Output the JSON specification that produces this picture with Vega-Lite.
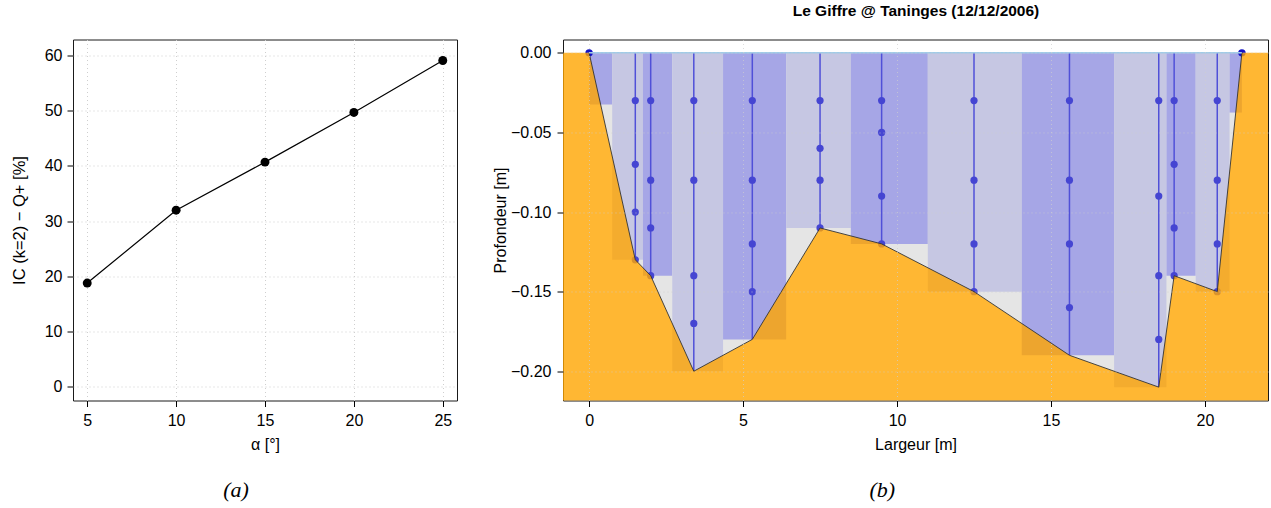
{
  "$schema": "https://vega.github.io/schema/vega-lite/v6.json",
  "padding": {"left": 10, "top": 2.5, "right": 0, "bottom": 0},
  "background": "white",
  "config": {
    "view": {"stroke": "#1a1a1a", "strokeWidth": 1},
    "font": "Liberation Sans",
    "axis": {
      "labelFont": "Liberation Sans", "titleFont": "Liberation Sans",
      "labelColor": "#000", "titleColor": "#000", "tickColor": "#000",
      "tickSize": 6, "tickWidth": 1, "domain": false,
      "gridColor": "#cfcfcf", "gridDash": [1, 3], "gridWidth": 1,
      "labelFontSize": 16, "titleFontSize": 16, "titleFontWeight": "normal",
      "labelPadding": 6, "titlePadding": 8, "labelFlush": false, "labelOverlap": false
    }
  },
  "spacing": 106,
  "bounds": "flush",
  "datasets": {
    "ic": [
      {"alpha": 5, "ic": 18.8},
      {"alpha": 10, "ic": 32.0},
      {"alpha": 15, "ic": 40.7},
      {"alpha": 20, "ic": 49.7},
      {"alpha": 25, "ic": 59.1}
    ],
    "bed": [
      {"x": 0, "d": 0}, {"x": 1.5, "d": -0.13}, {"x": 2.0, "d": -0.14}, {"x": 3.4, "d": -0.20},
      {"x": 5.3, "d": -0.18}, {"x": 7.5, "d": -0.11}, {"x": 9.5, "d": -0.12}, {"x": 12.5, "d": -0.15},
      {"x": 15.6, "d": -0.19}, {"x": 18.5, "d": -0.21}, {"x": 19.0, "d": -0.14}, {"x": 20.4, "d": -0.15},
      {"x": 21.2, "d": 0}
    ],
    "ground": [
      {"x": -3, "d": 0},
      {"x": 0, "d": 0}, {"x": 1.5, "d": -0.13}, {"x": 2.0, "d": -0.14}, {"x": 3.4, "d": -0.20},
      {"x": 5.3, "d": -0.18}, {"x": 7.5, "d": -0.11}, {"x": 9.5, "d": -0.12}, {"x": 12.5, "d": -0.15},
      {"x": 15.6, "d": -0.19}, {"x": 18.5, "d": -0.21}, {"x": 19.0, "d": -0.14}, {"x": 20.4, "d": -0.15},
      {"x": 21.2, "d": 0},
      {"x": 25, "d": 0}
    ],
    "sections": [
      {"x": 0, "xe": 0.75, "d": -0.0325, "shade": "dark"},
      {"x": 0.75, "xe": 1.75, "d": -0.13, "shade": "light"},
      {"x": 1.75, "xe": 2.7, "d": -0.14, "shade": "dark"},
      {"x": 2.7, "xe": 4.35, "d": -0.20, "shade": "light"},
      {"x": 4.35, "xe": 6.4, "d": -0.18, "shade": "dark"},
      {"x": 6.4, "xe": 8.5, "d": -0.11, "shade": "light"},
      {"x": 8.5, "xe": 11.0, "d": -0.12, "shade": "dark"},
      {"x": 11.0, "xe": 14.05, "d": -0.15, "shade": "light"},
      {"x": 14.05, "xe": 17.05, "d": -0.19, "shade": "dark"},
      {"x": 17.05, "xe": 18.75, "d": -0.21, "shade": "light"},
      {"x": 18.75, "xe": 19.7, "d": -0.14, "shade": "dark"},
      {"x": 19.7, "xe": 20.8, "d": -0.15, "shade": "light"},
      {"x": 20.8, "xe": 21.2, "d": -0.0375, "shade": "dark"}
    ],
    "verticals": [
      {"x": 1.5, "d": -0.13}, {"x": 2.0, "d": -0.14}, {"x": 3.4, "d": -0.20},
      {"x": 5.3, "d": -0.18}, {"x": 7.5, "d": -0.11}, {"x": 9.5, "d": -0.12}, {"x": 12.5, "d": -0.15},
      {"x": 15.6, "d": -0.19}, {"x": 18.5, "d": -0.21}, {"x": 19.0, "d": -0.14}, {"x": 20.4, "d": -0.15}
    ],
    "measures": [
      {"x": 1.5, "d": -0.03}, {"x": 1.5, "d": -0.07}, {"x": 1.5, "d": -0.10}, {"x": 1.5, "d": -0.13},
      {"x": 2.0, "d": -0.03}, {"x": 2.0, "d": -0.08}, {"x": 2.0, "d": -0.11}, {"x": 2.0, "d": -0.14},
      {"x": 3.4, "d": -0.03}, {"x": 3.4, "d": -0.08}, {"x": 3.4, "d": -0.14}, {"x": 3.4, "d": -0.17},
      {"x": 5.3, "d": -0.03}, {"x": 5.3, "d": -0.08}, {"x": 5.3, "d": -0.12}, {"x": 5.3, "d": -0.15},
      {"x": 7.5, "d": -0.03}, {"x": 7.5, "d": -0.06}, {"x": 7.5, "d": -0.08}, {"x": 7.5, "d": -0.11},
      {"x": 9.5, "d": -0.03}, {"x": 9.5, "d": -0.05}, {"x": 9.5, "d": -0.09}, {"x": 9.5, "d": -0.12},
      {"x": 12.5, "d": -0.03}, {"x": 12.5, "d": -0.08}, {"x": 12.5, "d": -0.12}, {"x": 12.5, "d": -0.15},
      {"x": 15.6, "d": -0.03}, {"x": 15.6, "d": -0.08}, {"x": 15.6, "d": -0.12}, {"x": 15.6, "d": -0.16},
      {"x": 18.5, "d": -0.03}, {"x": 18.5, "d": -0.09}, {"x": 18.5, "d": -0.14}, {"x": 18.5, "d": -0.18},
      {"x": 19.0, "d": -0.03}, {"x": 19.0, "d": -0.07}, {"x": 19.0, "d": -0.11}, {"x": 19.0, "d": -0.14},
      {"x": 20.4, "d": -0.03}, {"x": 20.4, "d": -0.08}, {"x": 20.4, "d": -0.12}, {"x": 20.4, "d": -0.15}
    ],
    "edges": [{"x": 0, "d": 0}, {"x": 21.2, "d": 0}],
    "surface": [{"x": 0, "xe": 21.2}]
  },
  "hconcat": [
    {
      "width": 384,
      "height": 361,
      "title": {"text": "(a)", "orient": "bottom", "anchor": "middle", "frame": "bounds", "font": "Liberation Serif", "fontStyle": "italic", "fontWeight": "normal", "fontSize": 22, "color": "#000", "offset": 27, "dx": 2},
      "data": {"name": "ic"},
      "encoding": {
        "x": {"field": "alpha", "type": "quantitative", "scale": {"domain": [4.2, 25.8], "nice": false, "zero": false},
              "axis": {"values": [5, 10, 15, 20, 25], "title": "α [°]", "grid": true}},
        "y": {"field": "ic", "type": "quantitative", "scale": {"domain": [-2.46, 62.9], "nice": false, "zero": false},
              "axis": {"values": [0, 10, 20, 30, 40, 50, 60], "title": "IC (k=2) − Q+ [%]", "grid": true, "labelPadding": 5, "titlePadding": 17, "titleFontSize": 16.5}}
      },
      "layer": [
        {"mark": {"type": "line", "color": "#000", "strokeWidth": 1.2}},
        {"mark": {"type": "point", "filled": true, "color": "#000", "opacity": 1, "size": 80}}
      ]
    },
    {
      "width": 705,
      "height": 361,
      "title": {"text": "(b)", "orient": "bottom", "anchor": "middle", "frame": "bounds", "font": "Liberation Serif", "fontStyle": "italic", "fontWeight": "normal", "fontSize": 22, "color": "#000", "offset": 27, "dx": 2},
      "resolve": {"scale": {"x": "independent"}},
      "layer": [
        {
          "encoding": {
            "x": {"field": "x", "type": "quantitative", "scale": {"domain": [-0.848, 22.048], "nice": false, "zero": false},
                  "axis": {"values": [0, 5, 10, 15, 20], "title": "Largeur [m]", "grid": true, "zindex": 1, "gridOpacity": 0.7}},
            "y": {"field": "d", "type": "quantitative", "scale": {"domain": [-0.2184, 0.0084], "nice": false, "zero": false},
                  "axis": {"values": [0, -0.05, -0.1, -0.15, -0.2], "format": ".2f", "title": "Profondeur [m]", "grid": true, "zindex": 1, "gridOpacity": 0.7, "labelPadding": 6, "titlePadding": 2}}
          },
          "layer": [
            {"data": {"name": "bed"}, "mark": {"type": "area", "color": "#e5e5e5", "opacity": 1}, "encoding": {"y2": {"datum": 0}}},
            {"data": {"name": "sections"}, "mark": {"type": "rect", "opacity": 1},
             "encoding": {"x2": {"field": "xe"}, "y2": {"datum": 0},
                          "color": {"field": "shade", "type": "nominal", "scale": {"domain": ["dark", "light"], "range": ["#a6a6e6", "#c6c7e3"]}, "legend": null}}},
            {"data": {"name": "verticals"}, "mark": {"type": "rule", "color": "#5050d8", "strokeWidth": 1.5}, "encoding": {"y2": {"datum": 0}}},
            {"data": {"name": "measures"}, "mark": {"type": "point", "filled": true, "color": "#4545d2", "opacity": 1, "size": 52}},
            {"data": {"name": "edges"}, "mark": {"type": "point", "filled": true, "color": "#1212c6", "opacity": 1, "size": 55}},
            {"data": {"name": "ground"}, "mark": {"type": "area", "color": "#ffa500", "opacity": 0.8, "clip": true}, "encoding": {"y2": {"datum": -0.3}}},
            {"data": {"name": "bed"}, "mark": {"type": "line", "color": "#333333", "strokeWidth": 0.9}}
          ]
        },
        {
          "data": {"name": "surface"},
          "mark": {"type": "rule", "color": "#9fcbe8", "strokeWidth": 1.5},
          "encoding": {
            "x": {"field": "x", "type": "quantitative", "scale": {"domain": [-0.848, 22.048], "nice": false, "zero": false},
                  "axis": {"orient": "top", "title": "Le Giffre @ Taninges (12/12/2006)", "labels": false, "ticks": false, "domain": false, "grid": false, "titleFontWeight": "bold", "titleFontSize": 15.5, "titlePadding": 21.5}},
            "x2": {"field": "xe"},
            "y": {"datum": 0, "type": "quantitative"}
          }
        }
      ]
    }
  ]
}
